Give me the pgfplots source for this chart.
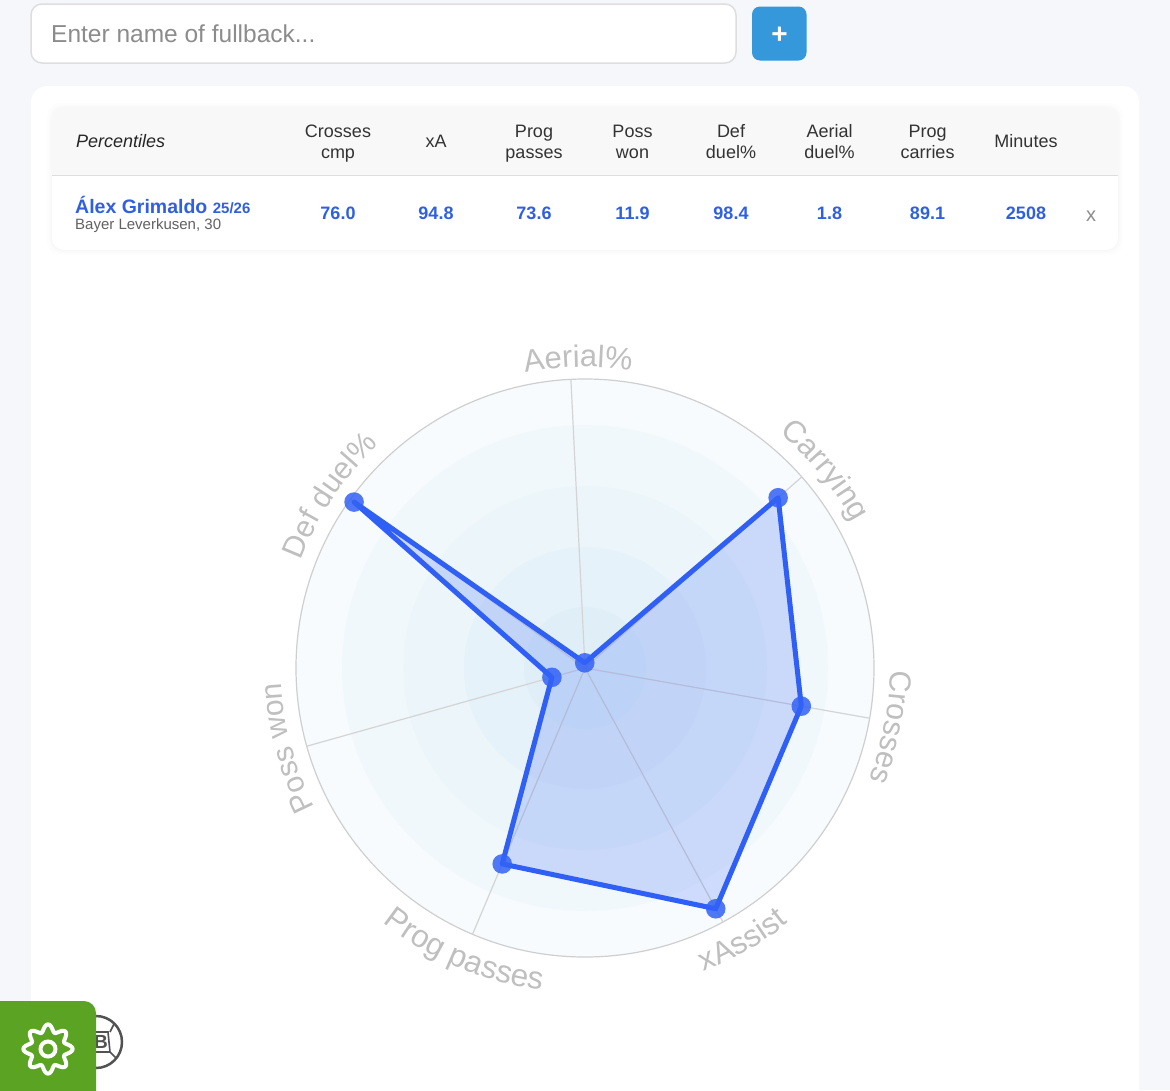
\documentclass[border=0pt]{standalone}
\usepackage{fontspec}
\setmainfont{Liberation Sans}
\usepackage{pgfplots}
\usepgfplotslibrary{polar}
\usetikzlibrary{decorations.text}
\pgfplotsset{compat=1.18}
\definecolor{pagebg}{HTML}{F5F7FB}
\definecolor{hdr}{HTML}{F8F8F8}
\definecolor{btn}{HTML}{3498DB}
\definecolor{val}{HTML}{2F5FE3}
\definecolor{lbl}{HTML}{BFBFBF}
\definecolor{polyc}{HTML}{2F5FF5}
\definecolor{markc}{HTML}{3362F5}
\definecolor{ringA}{HTML}{F7FBFE}
\definecolor{ringB}{HTML}{F1F8FC}
\definecolor{ringC}{HTML}{EBF5FA}
\definecolor{ringD}{HTML}{E6F2F9}
\definecolor{ringE}{HTML}{E0EFF7}
\definecolor{green}{HTML}{5BA423}
\newcommand{\fs}[1]{\fontsize{#1}{#1}\selectfont}
\pgfplotstableread{
ang val
-10.0  76.0
-61.5  94.8
-112.9 73.6
-164.3 11.9
144.3  98.4
92.8   1.8
41.4   89.1
-10.0  76.0
}\radar
\pgfplotstableread{
ang val
-10.0  76.0
-61.5  94.8
-112.9 73.6
-164.3 11.9
144.3  98.4
92.8   1.8
41.4   89.1
}\radarpts
\newcommand{\hcol}[3]{%
  \node[anchor=base,inner sep=0,text=black!80] at (#1,-137) {\fs{18}#2};
  \node[anchor=base,inner sep=0,text=black!80] at (#1,-158) {\fs{18}#3};}
\newcommand{\hone}[2]{\node[anchor=base,inner sep=0,text=black!80] at (#1,-147) {\fs{18}#2};}
\newcommand{\vcol}[2]{\node[anchor=base,inner sep=0,text=val] at (#1,-219.5) {\fs{18}\bfseries #2};}
\newcommand{\curv}[5]{% size, start angle, end angle, radius, text
  \path[decorate,decoration={text along path,text align=center,
     text={|\color{lbl}\fs{#1}|#5}}]
     ({585+#4*cos(#2)},{-668+#4*sin(#2)}) arc (#2:#3:#4);}
\begin{document}
\begin{tikzpicture}[x=1pt,y=1pt]
\useasboundingbox (0,-1090) rectangle (1170,0);
\clip (0,-1090) rectangle (1170,0);
\fill[pagebg] (0,-1090) rectangle (1170,0);
% input
\draw[draw=black!13,fill=white,line width=1.5pt,rounded corners=11pt] (31,-63) rectangle (736,-4);
\node[anchor=base west,inner sep=0,text=black!45] at (51,-42) {\fs{24.5}Enter name of fullback...};
\fill[btn,rounded corners=8pt] (752,-60.5) rectangle (806.5,-6.5);
\node[anchor=center,inner sep=0,text=white] at (779.5,-35) {\fs{28}\bfseries +};
% card
\fill[white,rounded corners=16pt] (31,-1200) rectangle (1139,-86);
% table card
\foreach \g/\o in {5/.006,3/.008,1.5/.012}
  \fill[black,opacity=\o,rounded corners=13pt] (52-\g,-250-\g) rectangle (1118+\g,-108+\g);
\fill[white,rounded corners=12pt] (52,-250) rectangle (1118,-108);
\begin{scope}
\clip[rounded corners=12pt] (52,-250) rectangle (1118,-108);
\fill[hdr] (52,-175) rectangle (1118,-108);
\end{scope}
\draw[black!13,line width=1.2pt] (52,-175.5) -- (1118,-175.5);
\node[anchor=base west,inner sep=0,text=black!85] at (76,-147) {\fs{18}\itshape Percentiles};
\hcol{338}{Crosses}{cmp}
\hone{436}{xA}
\hcol{534}{Prog}{passes}
\hcol{632.5}{Poss}{won}
\hcol{731}{Def}{duel\%}
\hcol{829.5}{Aerial}{duel\%}
\hcol{927.5}{Prog}{carries}
\hone{1026}{Minutes}
\node[anchor=base west,inner sep=0,text=val] at (75,-213) {\fs{19.5}\bfseries Álex Grimaldo \fs{15}25/26};
\node[anchor=base west,inner sep=0,text=black!62] at (75,-229) {\fs{15}Bayer Leverkusen, 30};
\vcol{338}{76.0}\vcol{436}{94.8}\vcol{534}{73.6}\vcol{632.5}{11.9}
\vcol{731}{98.4}\vcol{829.5}{1.8}\vcol{927.5}{89.1}\vcol{1026}{2508}
\node[anchor=base,inner sep=0,text=black!45] at (1091,-221) {\fs{20}x};
% rings
\fill[ringA] (585,-668) circle (289);
\draw[black!19,line width=1.2pt] (585,-668) circle (289);
\fill[ringB] (585,-668) circle (243);
\fill[ringC] (585,-668) circle (182);
\fill[ringD] (585,-668) circle (121);
\fill[ringE] (585,-668) circle (61);
% spokes
\foreach \a in {92.8,41.4,-10,-61.5,-112.9,-164.3,144.3}
  \draw[black!17,line width=1.2pt] (585,-668) -- ({585+289*cos(\a)},{-668+289*sin(\a)});
% labels
\curv{31}{112.8}{69.8}{301}{Aerial{\%}}
\curv{31}{69.5}{9.5}{305}{Carrying}
\curv{30.5}{14}{-36}{305}{Crosses}
\curv{31}{-92.5}{-27.5}{326}{xAssist}
\curv{31.5}{-155.5}{-70.5}{325}{Prog passes}
\curv{30}{-130}{-200}{304}{Poss won}
\curv{30.5}{181}{111}{304}{Def duel{\%}}
% logo under the gear tab
\begin{scope}
\draw[black!68,line width=2.5pt] (96,-1042) circle (26);
\draw[black!68,line width=1.6pt] (92,-1032) -- (108,-1032) -- (110,-1052) -- (92,-1052) (110,-1032) -- (114,-1024) (110,-1052) -- (116,-1058);
\node[anchor=center,inner sep=0,text=black!68] at (101,-1042) {\fs{19}\bfseries B};
\end{scope}
% data
\coordinate (C) at (585,-668);
\begin{polaraxis}[at={(C)},anchor=center,scale only axis,width=578pt,height=578pt,
  xmin=0,xmax=360,ymin=0,ymax=100,hide axis,clip=false]
\addplot[draw=none,fill=polyc,fill opacity=.2] table[x=ang,y=val] {\radar} -- cycle;
\addplot[polyc,line width=5pt,line join=round] table[x=ang,y=val] {\radar};
\addplot[markc,only marks,mark=*,mark size=9.8pt,mark options={line width=0pt,draw opacity=0,fill=markc,fill opacity=.85}] table[x=ang,y=val] {\radarpts};
\end{polaraxis}
% gear tab
\fill[green,rounded corners=12pt] (-20,-1110) rectangle (96,-1001);
\draw[white,line width=4pt,line join=round] plot[domain=0:360,samples=145,smooth] ({48+(21+3.6*cos(8*\x))*cos(\x)},{-1049+(21+3.6*cos(8*\x))*sin(\x)}) -- cycle;
\draw[white,line width=4pt] (48,-1049) circle (7.5);
\end{tikzpicture}
\end{document}
